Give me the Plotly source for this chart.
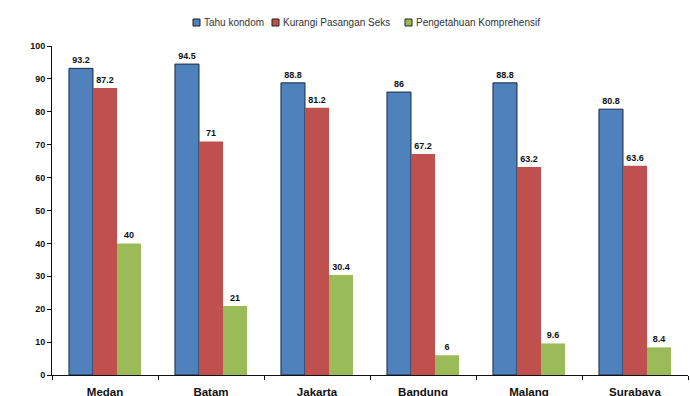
import plotly.graph_objects as go

cities = ["Medan", "Batam", "Jakarta", "Bandung", "Malang", "Surabaya"]
tahu_kondom = [93.2, 94.5, 88.8, 86, 88.8, 80.8]
kurangi_pasangan = [87.2, 71, 81.2, 67.2, 63.2, 63.6]
pengetahuan = [40, 21, 30.4, 6, 9.6, 8.4]
series_names = ["Tahu kondom", "Kurangi Pasangan Seks", "Pengetahuan Komprehensif"]
y_ticks = [0, 10, 20, 30, 40, 50, 60, 70, 80, 90, 100]

colors = ["#4F81BD", "#C0504D", "#9BBB59"]
outlines = ["#1a2a40", "#C0504D", "#9BBB59"]
widths = [1, 0, 0]

W, H = 690, 396
ML, MR, MT, MB = 52, 2, 46, 21
fig = go.Figure()
for name, vals, c, oc, w in zip(series_names, [tahu_kondom, kurangi_pasangan, pengetahuan], colors, outlines, widths):
    fig.add_trace(go.Bar(
        x=cities, y=vals, name=name,
        marker=dict(color=c, line=dict(color=oc, width=w)),
        text=[f"{v:g}" for v in vals],
        textposition="outside",
        textfont=dict(family="Liberation Sans", size=9, color="#111111", weight="bold"),
        cliponaxis=False,
        showlegend=False,
    ))

# custom compact legend (small squares + labels)
pw, ph = W - ML - MR, H - MT - MB
legend_x = [193, 272, 405]
for lx, name, c in zip(legend_x, series_names, colors):
    fig.add_shape(type="rect", xref="paper", yref="paper",
                  x0=(lx - ML) / pw, x1=(lx + 7 - ML) / pw,
                  y0=(H - MB - 26) / ph, y1=(H - MB - 19) / ph,
                  fillcolor=c, line=dict(color="#222222", width=1))
    fig.add_annotation(xref="paper", yref="paper",
                       x=(lx + 9 - ML) / pw, y=(H - MB - 22.5) / ph,
                       xanchor="left", yanchor="middle", showarrow=False,
                       text=name, font=dict(size=10, family="Liberation Sans", color="#333333"))

fig.update_layout(
    width=W, height=H,
    margin=dict(l=ML, r=MR, t=MT, b=MB, autoexpand=False),
    paper_bgcolor="white", plot_bgcolor="white",
    barmode="group", bargap=0.32, bargroupgap=0,
    font=dict(family="Liberation Sans", color="#111111"),
    showlegend=False,
)

fig.update_yaxes(range=[0, 100], tickvals=y_ticks, showgrid=False, zeroline=False,
                 showline=True, linecolor="#111111", linewidth=1, automargin=False,
                 ticks="outside", ticklen=4, tickcolor="#111111",
                 tickfont=dict(size=9, family="Liberation Sans", weight="bold"))
fig.update_xaxes(showgrid=False, showline=True, linecolor="#111111", linewidth=1,
                 automargin=False,
                 ticks="outside", ticklen=4, tickcolor="#111111", tickson="boundaries",
                 ticklabelstandoff=6,
                 tickfont=dict(size=11.5, family="Liberation Sans", weight="bold"))

fig.write_html("out.html")
